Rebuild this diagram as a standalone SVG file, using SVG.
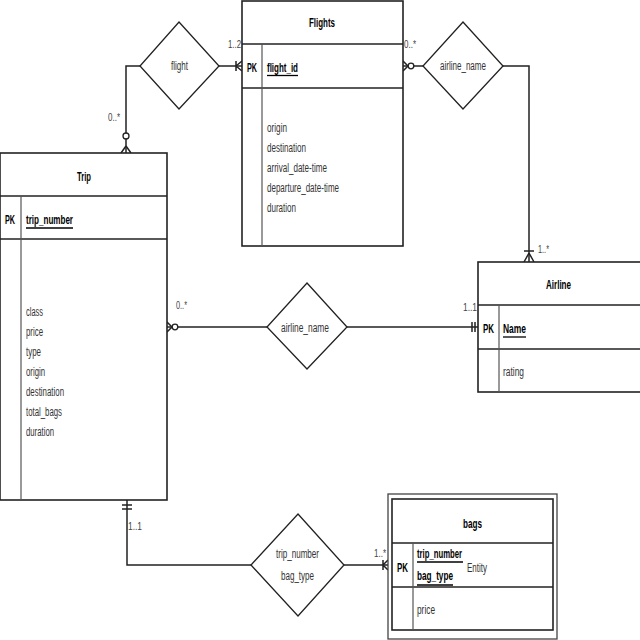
<svg xmlns="http://www.w3.org/2000/svg" width="640" height="640" viewBox="0 0 640 640">
<style>
text{font-family:"Liberation Sans",Arial,sans-serif;font-size:12px;fill:#222}
.b{font-weight:bold;fill:#000}
.a{fill:#333}
.c{fill:#444;font-size:11px}
.box{fill:#fff;stroke:#222;stroke-width:1.6}
.ln{stroke:#222;stroke-width:1.6;fill:none}
.dv{stroke:#555;stroke-width:1.2;fill:none}
.con{stroke:#222;stroke-width:1.5;fill:none}
.dia{fill:#fff;stroke:#222;stroke-width:1.3}
.ul{stroke:#000;stroke-width:1.3}
</style>
<rect width="640" height="640" fill="#fff"/>
<g id="connectors">
<polyline class="con" points="219,66 242,66"/>
<path class="con" d="M236,61V71 M236,66L242,61 M236,66L242,71"/>
<text class="c" x="228" y="48" textLength="13" lengthAdjust="spacingAndGlyphs">1..2</text>
<polyline class="con" points="140,66 126,66 126,153"/>
<circle cx="126" cy="136" r="3" fill="#fff" stroke="#222" stroke-width="1.3"/>
<path class="con" d="M126,146L121,153 M126,146L131,153"/>
<text class="c" x="108" y="121" textLength="12" lengthAdjust="spacingAndGlyphs">0..*</text>
<polyline class="con" points="403,66 423,66"/>
<path class="con" d="M408,66L403,61 M408,66L403,71"/>
<circle cx="411" cy="66" r="2.8" fill="#fff" stroke="#222" stroke-width="1.3"/>
<text class="c" x="404" y="48" textLength="12" lengthAdjust="spacingAndGlyphs">0..*</text>
<polyline class="con" points="503,66 529,66 529,262"/>
<path class="con" d="M524,251H534 M529,253L524,262 M529,253L534,262"/>
<text class="c" x="538" y="253" textLength="11" lengthAdjust="spacingAndGlyphs">1..*</text>
<polyline class="con" points="167,327 267,327"/>
<path class="con" d="M172,327L167,322 M172,327L167,332"/>
<circle cx="175" cy="327" r="2.8" fill="#fff" stroke="#222" stroke-width="1.3"/>
<text class="c" x="176" y="309" textLength="11" lengthAdjust="spacingAndGlyphs">0..*</text>
<polyline class="con" points="347,327 478,327"/>
<path class="con" d="M472,322V332 M475,322V332"/>
<text class="c" x="463" y="311" textLength="14" lengthAdjust="spacingAndGlyphs">1..1</text>
<polyline class="con" points="127,500 127,565 251,565"/>
<path class="con" d="M122,505H132 M122,509H132"/>
<text class="c" x="128" y="530" textLength="14" lengthAdjust="spacingAndGlyphs">1..1</text>
<polyline class="con" points="344,565 388,565"/>
<path class="con" d="M383,560V570 M383,565L388,560 M383,565L388,570"/>
<text class="c" x="374" y="557" textLength="12" lengthAdjust="spacingAndGlyphs">1..*</text>
</g>
<g id="rel-flight">
<polygon class="dia" points="179,22 219,66 179,109 140,66"/>
<text x="171" y="70" class="a" textLength="17" lengthAdjust="spacingAndGlyphs">flight</text>
</g>
<g id="rel-airline-flights">
<polygon class="dia" points="463,22 503,66 463,109 423,66"/>
<text x="440" y="70" class="a" textLength="46" lengthAdjust="spacingAndGlyphs">airline_name</text>
</g>
<g id="rel-airline-trip">
<polygon class="dia" points="307,283 347,327 307,369 267,327"/>
<text x="281" y="332" class="a" textLength="48" lengthAdjust="spacingAndGlyphs">airline_name</text>
</g>
<g id="rel-bags">
<polygon class="dia" points="298,514 344,565 298,616 251,565"/>
<text x="276" y="558" class="a" textLength="43" lengthAdjust="spacingAndGlyphs">trip_number</text>
<text x="281" y="580" class="a" textLength="33" lengthAdjust="spacingAndGlyphs">bag_type</text>
</g>
<g id="Flights">
<rect class="box" x="242" y="1" width="161" height="245"/>
<line class="ln" x1="242" y1="44" x2="403" y2="44"/>
<line class="ln" x1="242" y1="88" x2="403" y2="88"/>
<line class="dv" x1="262" y1="44" x2="262" y2="246"/>
<text class="b" x="309" y="27" textLength="26" lengthAdjust="spacingAndGlyphs">Flights</text>
<text class="b" x="247" y="72" textLength="10" lengthAdjust="spacingAndGlyphs">PK</text>
<text class="b" x="267" y="72" textLength="31" lengthAdjust="spacingAndGlyphs">flight_id</text>
<line class="ul" x1="267" y1="75.5" x2="298" y2="75.5"/>
<text class="a" x="267" y="132" textLength="20" lengthAdjust="spacingAndGlyphs">origin</text>
<text class="a" x="267" y="152" textLength="39" lengthAdjust="spacingAndGlyphs">destination</text>
<text class="a" x="267" y="172" textLength="60" lengthAdjust="spacingAndGlyphs">arrival_date-time</text>
<text class="a" x="267" y="192" textLength="72" lengthAdjust="spacingAndGlyphs">departure_date-time</text>
<text class="a" x="267" y="212" textLength="29" lengthAdjust="spacingAndGlyphs">duration</text>
</g>
<g id="Trip">
<rect class="box" x="0" y="153" width="167" height="347"/>
<line class="ln" x1="0" y1="196" x2="167" y2="196"/>
<line class="ln" x1="0" y1="239" x2="167" y2="239"/>
<line class="dv" x1="21" y1="196" x2="21" y2="500"/>
<text class="b" x="77" y="181" textLength="14" lengthAdjust="spacingAndGlyphs">Trip</text>
<text class="b" x="5" y="224" textLength="10" lengthAdjust="spacingAndGlyphs">PK</text>
<text class="b" x="26" y="224" textLength="47" lengthAdjust="spacingAndGlyphs">trip_number</text>
<line class="ul" x1="26" y1="228" x2="73" y2="228"/>
<text class="a" x="26" y="316" textLength="17" lengthAdjust="spacingAndGlyphs">class</text>
<text class="a" x="26" y="336" textLength="17" lengthAdjust="spacingAndGlyphs">price</text>
<text class="a" x="26" y="356" textLength="15" lengthAdjust="spacingAndGlyphs">type</text>
<text class="a" x="26" y="376" textLength="19" lengthAdjust="spacingAndGlyphs">origin</text>
<text class="a" x="26" y="396" textLength="38" lengthAdjust="spacingAndGlyphs">destination</text>
<text class="a" x="26" y="416" textLength="36" lengthAdjust="spacingAndGlyphs">total_bags</text>
<text class="a" x="26" y="436" textLength="28" lengthAdjust="spacingAndGlyphs">duration</text>
</g>
<g id="Airline">
<rect class="box" x="478" y="262" width="163" height="130"/>
<line class="ln" x1="478" y1="305" x2="640" y2="305"/>
<line class="ln" x1="478" y1="349" x2="640" y2="349"/>
<line class="dv" x1="499" y1="305" x2="499" y2="392"/>
<text class="b" x="546" y="289" textLength="25" lengthAdjust="spacingAndGlyphs">Airline</text>
<text class="b" x="483" y="333" textLength="11" lengthAdjust="spacingAndGlyphs">PK</text>
<text class="b" x="503" y="333" textLength="23" lengthAdjust="spacingAndGlyphs">Name</text>
<line class="ul" x1="503" y1="337" x2="526" y2="337"/>
<text class="a" x="503" y="376" textLength="21" lengthAdjust="spacingAndGlyphs">rating</text>
</g>
<g id="bags">
<rect x="388" y="494" width="169" height="145" fill="#fff" stroke="#444" stroke-width="1.3"/>
<rect class="box" x="392" y="499" width="161" height="131"/>
<line class="ln" x1="392" y1="543" x2="553" y2="543"/>
<line class="ln" x1="392" y1="587" x2="553" y2="587"/>
<line class="dv" x1="413" y1="543" x2="413" y2="630"/>
<text class="b" x="463" y="528" textLength="19" lengthAdjust="spacingAndGlyphs">bags</text>
<text class="b" x="397" y="572" textLength="11" lengthAdjust="spacingAndGlyphs">PK</text>
<text class="b" x="417" y="558" textLength="45" lengthAdjust="spacingAndGlyphs">trip_number</text>
<line class="ul" x1="417" y1="562" x2="463" y2="562"/>
<text class="a" x="467" y="572" textLength="20" lengthAdjust="spacingAndGlyphs">Entity</text>
<text class="b" x="417" y="580" textLength="36" lengthAdjust="spacingAndGlyphs">bag_type</text>
<line class="ul" x1="417" y1="585" x2="453" y2="585"/>
<text class="a" x="417" y="614" textLength="18" lengthAdjust="spacingAndGlyphs">price</text>
</g>
</svg>
